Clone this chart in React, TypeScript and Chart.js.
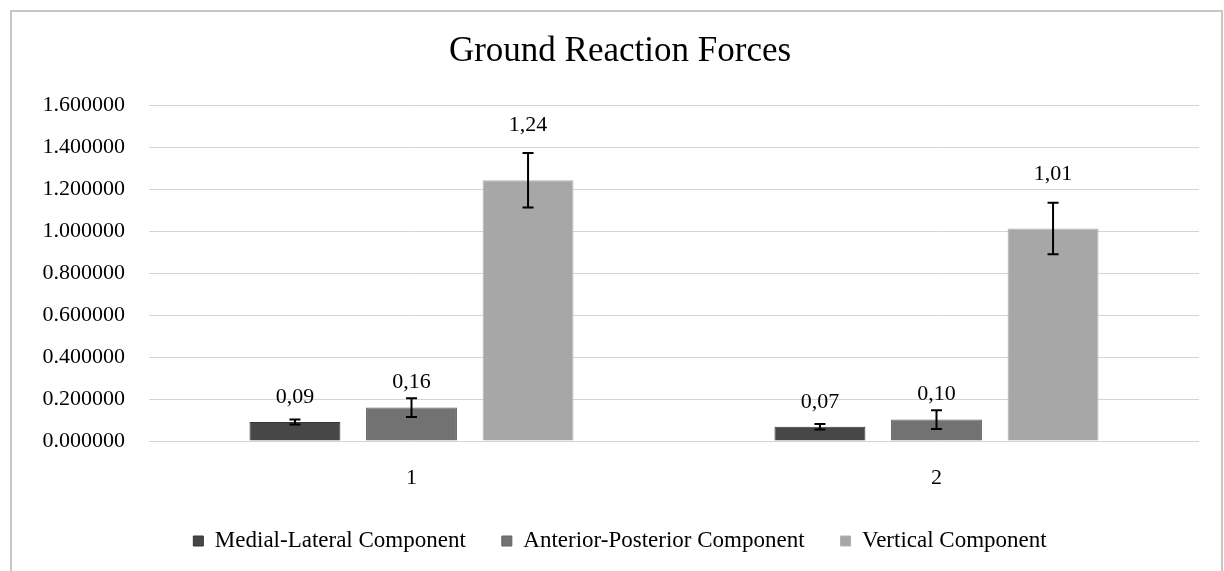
import React, { useEffect, useRef } from "react";
import { Chart, registerables } from "chart.js";

Chart.register(...registerables);

const categories = ["1", "2"];
const seriesNames = ["Medial-Lateral Component", "Anterior-Posterior Component", "Vertical Component"];
const medialLateral = [0.09, 0.068];
const anteriorPosterior = [0.159, 0.102];
const vertical = [1.242, 1.012];
const medialLateralErr = [0.012, 0.013];
const anteriorPosteriorErr = [0.045, 0.045];
const verticalErr = [0.13, 0.123];
const yTicks = [0, 0.2, 0.4, 0.6, 0.8, 1.0, 1.2, 1.4, 1.6];
const fillColors = ["#474747", "#727272", "#a7a7a7"];
const edgeColors = ["#363636", "#626262", "#b2b2b2"];

const FONT = '"Liberation Serif", "Times New Roman", serif';
const seriesValues = [medialLateral, anteriorPosterior, vertical];
const seriesErrors = [medialLateralErr, anteriorPosteriorErr, verticalErr];

const framePlugin = {
  id: "frame",
  beforeDraw(chart: any) {
    const ctx = chart.ctx;
    ctx.save();
    ctx.strokeStyle = "#c6c6c6";
    ctx.lineWidth = 2;
    ctx.strokeRect(11, 11, 1211, 620);
    ctx.restore();
  },
};

const errorLabelPlugin = {
  id: "errorLabels",
  afterDatasetsDraw(chart: any) {
    const ctx = chart.ctx;
    const yScale = chart.scales.y;
    chart.data.datasets.forEach((ds: any, di: number) => {
      const meta = chart.getDatasetMeta(di);
      const errs = seriesErrors[di];
      meta.data.forEach((bar: any, i: number) => {
        const v = ds.data[i];
        const e = errs[i];
        const x = bar.x;
        const yTop = yScale.getPixelForValue(v + e);
        const yBot = yScale.getPixelForValue(v - e);
        ctx.save();
        ctx.strokeStyle = "#000";
        ctx.lineWidth = 2;
        ctx.beginPath();
        ctx.moveTo(x, yTop);
        ctx.lineTo(x, yBot);
        ctx.moveTo(x - 5.5, yTop);
        ctx.lineTo(x + 5.5, yTop);
        ctx.moveTo(x - 5.5, yBot);
        ctx.lineTo(x + 5.5, yBot);
        ctx.stroke();
        let ly = bar.y - 25;
        if (yTop < ly + 12) ly = yTop - 28;
        ctx.fillStyle = "#000";
        ctx.font = "22px " + FONT;
        ctx.textAlign = "center";
        ctx.textBaseline = "middle";
        ctx.fillText(v.toFixed(2).replace(".", ","), x, ly);
        ctx.restore();
      });
    });
  },
};

export default function App() {
  const ref = useRef<HTMLCanvasElement>(null);
  useEffect(() => {
    if (!ref.current) return;
    Chart.defaults.font.family = FONT;
    Chart.defaults.color = "#000";
    const chart = new Chart(ref.current, {
      type: "bar",
      data: {
        labels: categories,
        datasets: seriesNames.map((name, i) => ({
          label: name,
          data: seriesValues[i],
          backgroundColor: fillColors[i],
          borderColor: edgeColors[i],
          borderWidth: 1,
          categoryPercentage: 0.666,
          barPercentage: 0.78,
        })),
      },
      options: {
        responsive: false,
        animation: false,
        layout: { padding: { left: 16, right: 0, top: 0, bottom: 8.5 } },
        plugins: {
          title: {
            display: true,
            text: "Ground Reaction Forces",
            color: "#000",
            font: { size: 35, weight: "normal", family: FONT, lineHeight: 1.2 },
            padding: { top: 31, bottom: 32 },
          },
          legend: {
            display: true,
            position: "bottom",
            labels: {
              boxWidth: 10,
              boxHeight: 10,
              padding: 36,
              color: "#000",
              font: { size: 23, family: FONT },
            },
          },
          tooltip: { enabled: false },
        },
        scales: {
          x: {
            grid: { display: false, drawTicks: false },
            border: { display: false },
            ticks: { padding: 24, font: { size: 22, family: FONT }, color: "#000" },
            afterFit: (s: any) => {
              s.height = 52.5;
            },
          },
          y: {
            min: 0,
            max: 1.6,
            grid: { color: "#d4d4d4", lineWidth: 1, drawTicks: false },
            border: { display: false },
            afterBuildTicks: (s: any) => {
              s.ticks = yTicks.map((v) => ({ value: v }));
            },
            ticks: {
              padding: 24,
              font: { size: 22, family: FONT },
              color: "#000",
              callback: (v: any) => Number(v).toFixed(6),
            },
            afterFit: (s: any) => {
              s.width = 133;
            },
          },
          y2: {
            type: "linear",
            position: "right",
            display: true,
            grid: { display: false, drawTicks: false },
            border: { display: false },
            ticks: { display: false },
            afterFit: (s: any) => {
              s.width = 25;
            },
          },
        },
      },
      plugins: [framePlugin, errorLabelPlugin],
    });
    return () => chart.destroy();
  }, []);
  return (
    <div style={{ position: "absolute", left: 0, top: 0, width: 1224, height: 571, background: "#fff" }}>
      <canvas ref={ref} width={1224} height={571} style={{ display: "block" }} />
    </div>
  );
}
